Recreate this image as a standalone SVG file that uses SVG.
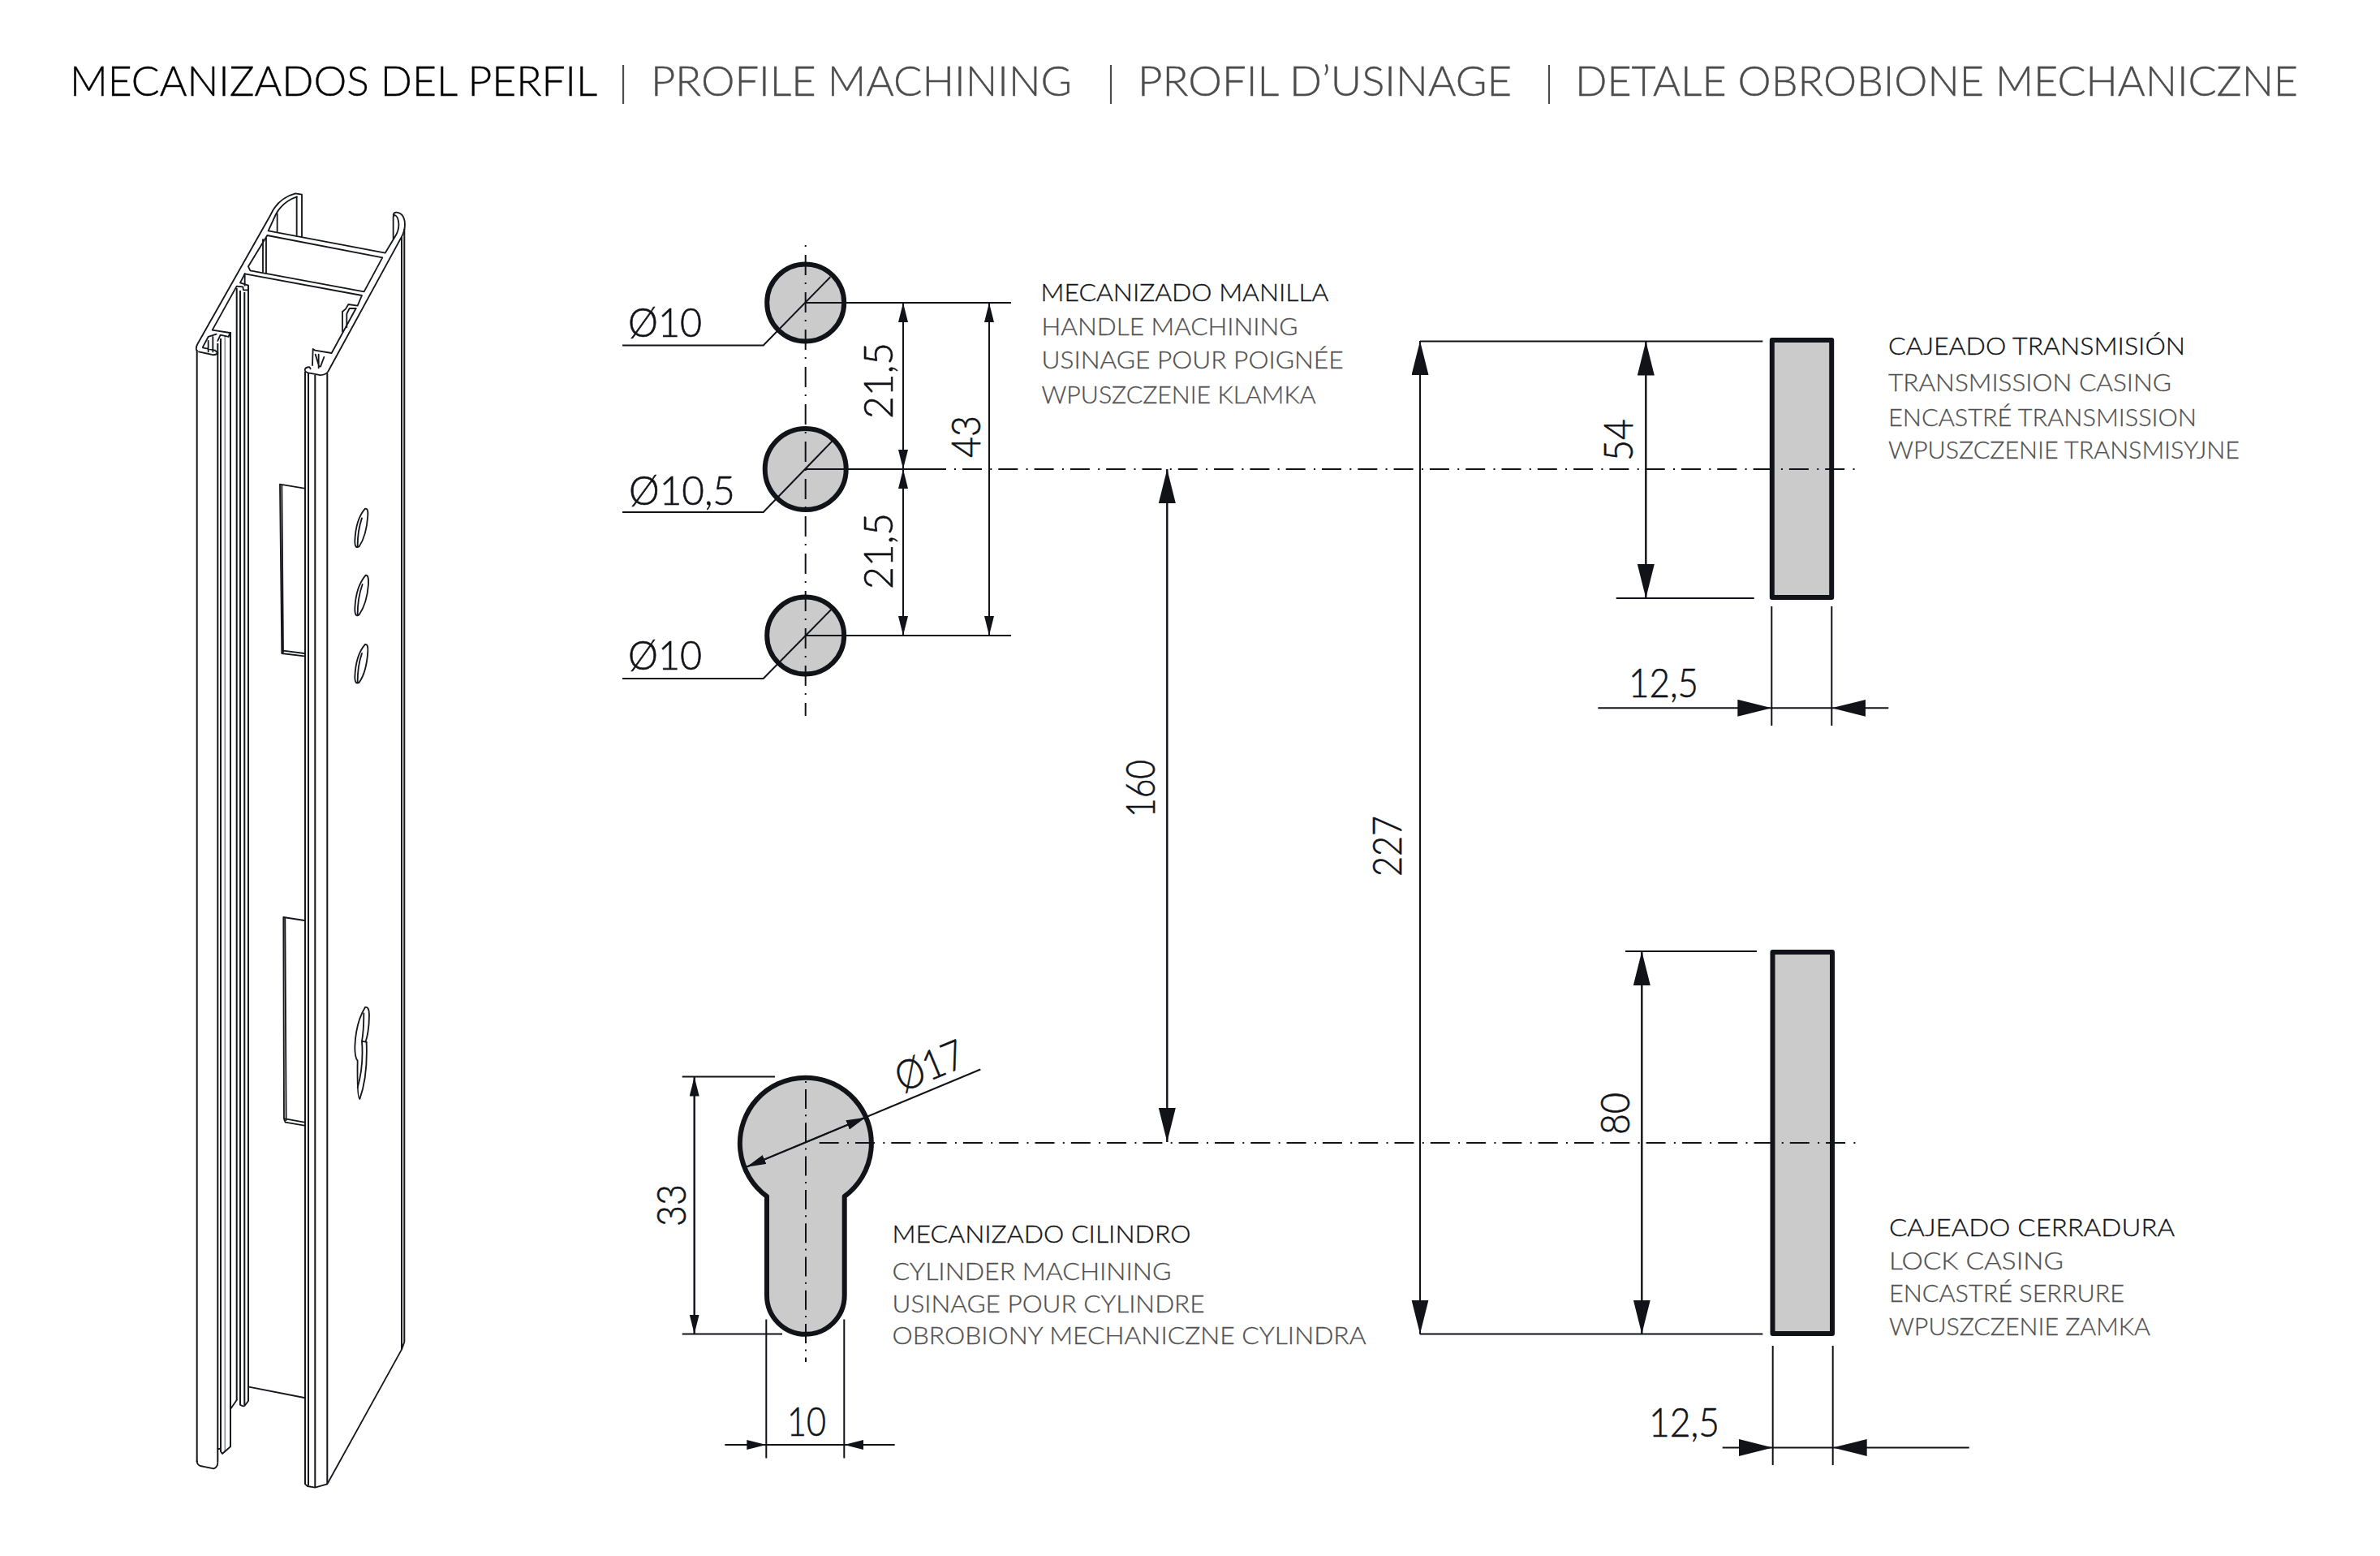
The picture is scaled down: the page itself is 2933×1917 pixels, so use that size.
<svg xmlns="http://www.w3.org/2000/svg" width="2933" height="1917" viewBox="0 0 2933 1917">
<style>
text{font-family:"Lato","Liberation Sans",sans-serif;font-weight:300;fill:#111318}
.t{font-size:52px;fill:#000;stroke:#000;stroke-width:.4}
.t.g{fill:#4c4c4c;stroke:#4c4c4c;stroke-width:.4}
.l{font-size:30px;stroke:#111318;stroke-width:.35}
.l.g{fill:#505050;stroke:#505050;stroke-width:.3}
.d{font-size:50px;stroke:#111318;stroke-width:.6}
.e{stroke:#111318;stroke-width:2;fill:none}
.s{stroke:#111318;stroke-width:6;fill:#cbcbcb;stroke-linejoin:round}
.p{stroke:#15171c;stroke-width:2;fill:none}
.z{stroke:#15171c;stroke-width:5.5;fill:none;stroke-linejoin:round;stroke-linecap:round}
.c{stroke:#111318;stroke-width:2;fill:none;stroke-dasharray:2 8 24 10.3}
.cv{stroke:#111318;stroke-width:2;fill:none;stroke-dasharray:2 10 25 9}
</style>
<defs>
<marker id="aL" markerUnits="userSpaceOnUse" markerWidth="44" markerHeight="22" refX="42" refY="10.5" orient="auto"><path d="M0 0L42 10.5L0 21Z" fill="#111318"/></marker>
<marker id="aS" markerUnits="userSpaceOnUse" markerWidth="26" markerHeight="14" refX="24" refY="6" orient="auto"><path d="M0 0L24 6L0 12Z" fill="#111318"/></marker>
</defs>

<g id="title">
<text class="t" x="86" y="118" textLength="650" lengthAdjust="spacingAndGlyphs">MECANIZADOS DEL PERFIL</text>
<text class="t g" x="802" y="118" textLength="519" lengthAdjust="spacingAndGlyphs">PROFILE MACHINING</text>
<text class="t g" x="1402" y="118" textLength="461" lengthAdjust="spacingAndGlyphs">PROFIL D’USINAGE</text>
<text class="t g" x="1941" y="118" textLength="891" lengthAdjust="spacingAndGlyphs">DETALE OBROBIONE MECHANICZNE</text>
<path d="M768 80V128M1369 80V128M1909 80V128" stroke="#4c4c4c" stroke-width="2.2" fill="none"/>
</g>

<g id="profile">
<path class="p" d="M242.7 431V1801M268.3 423V1801M272 417V1788M284 409V1782M291.7 355V1725M296 358V1731M301.3 360V1731M306 352V1726M376 458V1828M380 460V1830M388.3 462V1833M403.3 460V1828M495 292V1663M498.3 282V1653"/>
<path d="M277.3 413V1788" stroke="#8f9196" stroke-width="1.7" fill="none"/>
<g transform="translate(200 220) scale(.3333)" class="z">
<path d="M128 636Q122 628 130 612L400 135Q428 72 492 55L516 59V215"/>
<path d="M498 67Q445 85 420 132L392 193L824 275L862 212Q876 190 874 165Q872 140 860 135L854 140V225"/>
<path d="M854 135Q856 124 866 125Q896 128 897 170Q897 192 885 215L612 715Q602 728 580 726L540 718Q524 714 528 704Q532 696 545 697L548 703"/>
<path d="M388 210L814 292L746 418L325 340L318 325L388 210"/>
<path d="M305 352L738 432L722 470L688 465L678 482L666 492V565"/>
<path d="M716 480H692L682 500V550"/>
<path d="M716 480L626 645L565 635L557 630L555 690"/>
<path d="M566 650L580 695M598 660L585 695M578 650V700"/>
<path d="M305 352L288 385L318 395V412L300 412L298 400L275 398L185 560L250 570L245 585L215 578L205 600"/>
<path d="M372 225V345M384 220V350M425 130V195M497 68V208M305 352V395"/>
<path d="M150 622L170 585L200 575M150 625L195 635L205 645Q195 655 180 650L135 640M170 600V640M187 585V640"/>
</g>
<g transform="translate(200 520) scale(.3333)" class="z">
<path d="M525 245L435 230L442 855L525 865M447 845L525 855M442 235L447 850"/>
<path d="M750 320Q762 318 760 345Q755 420 728 460Q712 470 712 440Q715 360 750 320ZM738 355Q722 400 722 460"/>
<path d="M752 566Q764 564 762 600Q757 670 728 712Q712 724 712 690Q715 610 752 566ZM740 600Q722 650 722 712"/>
<path d="M750 822Q762 820 760 848Q755 925 728 962Q712 972 712 942Q715 862 750 822ZM738 855Q722 900 722 962"/>
</g>
<g transform="translate(200 1100) scale(.3333)" class="z">
<path d="M525 102L448 90L450 835L455 848L525 860M455 835L525 848M454 95L458 840"/>
<path d="M750 423Q765 420 765 450Q765 510 752 550L755 552Q760 680 730 762Q720 760 722 620Q712 610 712 570Q715 480 750 423Z"/>
<path d="M745 445Q745 510 738 548L755 552M738 548Q745 640 722 720"/>
</g>
<g transform="translate(200 1600) scale(.3333)" class="z">
<path d="M128 600Q128 612 140 618L190 628Q205 622 205 605"/>
<path d="M205 555H216V565L222 573L252 547M252 408L275 375M288 392Q300 400 305 395L318 378M320 326L525 366"/>
<path d="M528 685L537 693L565 698L610 685L885 188L895 160"/>
</g>
</g>

<g id="hole-1"><circle class="s" cx="992.7" cy="373" r="47.5"/></g>
<g id="hole-2"><circle class="s" cx="992.7" cy="578" r="50"/></g>
<g id="hole-3"><circle class="s" cx="992.7" cy="783" r="47.5"/></g>
<g id="keyhole"><path class="s" d="M945 1474A81 81 0 1 1 1040.7 1474V1596A47.8 47.8 0 0 1 945 1596Z"/></g>
<g id="casing-transmission"><rect class="s" x="2183.8" y="419" width="73.4" height="317"/></g>
<g id="casing-lock"><rect class="s" x="2184.5" y="1173" width="73.5" height="470"/></g>

<g id="connectors">
<path class="cv" d="M992.7 302V882"/>
<path class="cv" style="stroke-dasharray:2 8 24 7.3" d="M993 1332V1678"/>
<path class="c" d="M1176 578H2287"/>
<path class="e" d="M992.7 578H1166"/>
<path class="c" style="stroke-dasharray:24 10.3 2 8" d="M1009.7 1408H2287"/>

<path class="e" d="M992.7 373H1246M992.7 783H1246"/>
<path class="e" d="M1023.3 341.2L940.7 425.5H767M1026 543L940.7 631H767M1024.3 751L940.7 836H767"/>
<path class="e" d="M1113 373V578" marker-end="url(#aS)"/>
<path class="e" d="M1113 578V373" marker-end="url(#aS)"/>
<path class="e" d="M1113 578V783" marker-end="url(#aS)"/>
<path class="e" d="M1113 783V578" marker-end="url(#aS)"/>
<path class="e" d="M1219 373V783" marker-end="url(#aS)"/>
<path class="e" d="M1219 783V373" marker-end="url(#aS)"/>

<path class="e" d="M1438.3 578V1407" marker-end="url(#aL)"/>
<path class="e" d="M1438.3 1407V578" marker-end="url(#aL)"/>
<path class="e" d="M1750 420V1643.5" marker-end="url(#aL)"/>
<path class="e" d="M1750 1643.5V420" marker-end="url(#aL)"/>
<path class="e" d="M1750 420.5H2172.3M1991.7 737H2161.7M2003 1172H2165M1750 1643.5H2172.3"/>
<path class="e" d="M2028.3 420.5V737" marker-end="url(#aL)"/>
<path class="e" d="M2028.3 737V420.5" marker-end="url(#aL)"/>
<path class="e" d="M2023.3 1172V1643.5" marker-end="url(#aL)"/>
<path class="e" d="M2023.3 1643.5V1172" marker-end="url(#aL)"/>

<path class="e" d="M2183.3 747V894M2257.3 747V894"/>
<path class="e" d="M1969.3 872.3H2183.3" marker-end="url(#aL)"/>
<path class="e" d="M2327.3 872.3H2257.3" marker-end="url(#aL)"/>
<path class="e" d="M2183.3 872.3H2257.3"/>
<path class="e" d="M2184.7 1658V1805M2258.7 1658V1805"/>
<path class="e" d="M2122.7 1783.5H2184.7" marker-end="url(#aL)"/>
<path class="e" d="M2426.7 1783.5H2258.7" marker-end="url(#aL)"/>
<path class="e" d="M2184.7 1783.5H2258.7"/>

<path class="e" d="M840.7 1326.5H955M840.7 1643.5H964"/>
<path class="e" d="M855.7 1326.5V1643.5" marker-end="url(#aS)"/>
<path class="e" d="M855.7 1643.5V1326.5" marker-end="url(#aS)"/>
<path class="e" d="M944.3 1625.5V1796.5M1040.3 1625.5V1796.5"/>
<path class="e" d="M893.3 1780H944.3" marker-end="url(#aS)"/>
<path class="e" d="M1102.7 1780H1040.3" marker-end="url(#aS)"/>
<path class="e" d="M944.3 1780H1040.3"/>
<path class="e" d="M1208.3 1317.5L920 1437.7" marker-end="url(#aS)"/>
<path class="e" d="M920 1437.7L1066.7 1376.7" marker-end="url(#aS)"/>
</g>

<g id="dimensions">
<text class="d" x="774" y="415" textLength="91" lengthAdjust="spacingAndGlyphs">Ø10</text>
<text class="d" x="775" y="622" textLength="131" lengthAdjust="spacingAndGlyphs">Ø10,5</text>
<text class="d" x="774" y="825" textLength="91" lengthAdjust="spacingAndGlyphs">Ø10</text>
<text class="d" transform="translate(1100 516) rotate(-90)" textLength="94" lengthAdjust="spacingAndGlyphs">21,5</text>
<text class="d" transform="translate(1100 726) rotate(-90)" textLength="94" lengthAdjust="spacingAndGlyphs">21,5</text>
<text class="d" transform="translate(1208 564) rotate(-90)" textLength="52" lengthAdjust="spacingAndGlyphs">43</text>
<text class="d" transform="translate(1423 1007) rotate(-90)" textLength="71" lengthAdjust="spacingAndGlyphs">160</text>
<text class="d" transform="translate(1727 1080) rotate(-90)" textLength="75" lengthAdjust="spacingAndGlyphs">227</text>
<text class="d" transform="translate(2011.7 568) rotate(-90)" textLength="52" lengthAdjust="spacingAndGlyphs">54</text>
<text class="d" transform="translate(2008 1398) rotate(-90)" textLength="52" lengthAdjust="spacingAndGlyphs">80</text>
<text class="d" transform="translate(845 1511) rotate(-90)" textLength="52" lengthAdjust="spacingAndGlyphs">33</text>
<text class="d" x="2007" y="859" textLength="86" lengthAdjust="spacingAndGlyphs">12,5</text>
<text class="d" x="2032" y="1769.5" textLength="87" lengthAdjust="spacingAndGlyphs">12,5</text>
<text class="d" x="970" y="1769" textLength="48" lengthAdjust="spacingAndGlyphs">10</text>
<text class="d" transform="translate(1112 1346) rotate(-22.7)" textLength="88" lengthAdjust="spacingAndGlyphs">Ø17</text>
</g>

<g id="label-handle">
<text class="l" x="1282.5" y="370.7" textLength="355" lengthAdjust="spacingAndGlyphs">MECANIZADO MANILLA</text>
<text class="l g" x="1283.5" y="413" textLength="316" lengthAdjust="spacingAndGlyphs">HANDLE MACHINING</text>
<text class="l g" x="1283.5" y="454" textLength="372" lengthAdjust="spacingAndGlyphs">USINAGE POUR POIGNÉE</text>
<text class="l g" x="1283.5" y="496.7" textLength="338" lengthAdjust="spacingAndGlyphs">WPUSZCZENIE KLAMKA</text>
</g>
<g id="label-transmission">
<text class="l" x="2327" y="436.7" textLength="366" lengthAdjust="spacingAndGlyphs">CAJEADO TRANSMISIÓN</text>
<text class="l g" x="2327" y="481.7" textLength="349" lengthAdjust="spacingAndGlyphs">TRANSMISSION CASING</text>
<text class="l g" x="2327" y="525" textLength="380" lengthAdjust="spacingAndGlyphs">ENCASTRÉ TRANSMISSION</text>
<text class="l g" x="2327" y="565" textLength="433" lengthAdjust="spacingAndGlyphs">WPUSZCZENIE TRANSMISYJNE</text>
</g>
<g id="label-cylinder">
<text class="l" x="1099.5" y="1531" textLength="368" lengthAdjust="spacingAndGlyphs">MECANIZADO CILINDRO</text>
<text class="l g" x="1099.5" y="1576.5" textLength="344" lengthAdjust="spacingAndGlyphs">CYLINDER MACHINING</text>
<text class="l g" x="1099.5" y="1616.5" textLength="385" lengthAdjust="spacingAndGlyphs">USINAGE POUR CYLINDRE</text>
<text class="l g" x="1099.5" y="1656" textLength="584" lengthAdjust="spacingAndGlyphs">OBROBIONY MECHANICZNE CYLINDRA</text>
</g>
<g id="label-lock">
<text class="l" x="2328" y="1523" textLength="352" lengthAdjust="spacingAndGlyphs">CAJEADO CERRADURA</text>
<text class="l g" x="2328" y="1563.5" textLength="215" lengthAdjust="spacingAndGlyphs">LOCK CASING</text>
<text class="l g" x="2328" y="1604" textLength="290" lengthAdjust="spacingAndGlyphs">ENCASTRÉ SERRURE</text>
<text class="l g" x="2328" y="1644.5" textLength="322" lengthAdjust="spacingAndGlyphs">WPUSZCZENIE ZAMKA</text>
</g>
</svg>
